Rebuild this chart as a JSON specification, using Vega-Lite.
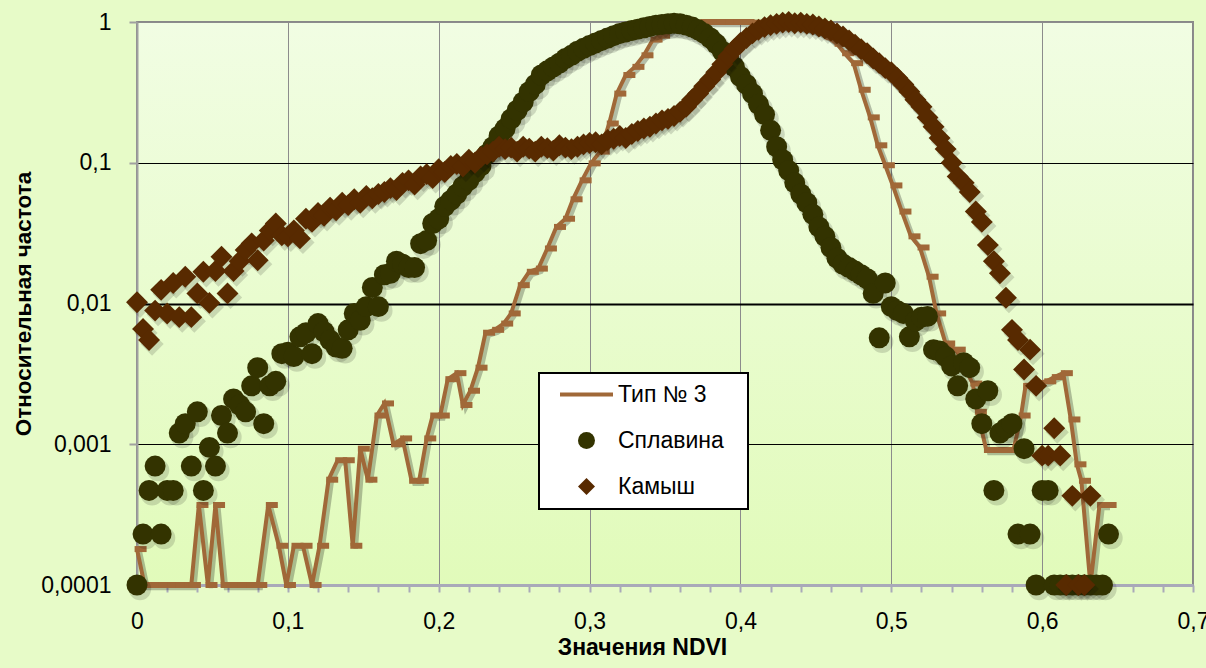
{
  "$schema": "https://vega.github.io/schema/vega-lite/v6.json",
  "width": 1056,
  "height": 563,
  "autosize": {"type": "none"},
  "padding": {"left": 137, "top": 22, "right": 13, "bottom": 83},
  "background": "#E7FBC8",
  "config": {
    "view": {
      "fill": {"gradient": "linear", "x1": 0, "y1": 0, "x2": 0, "y2": 1, "stops": [{"offset": 0, "color": "#F1FDE3"}, {"offset": 1, "color": "#E1FBBA"}]},
      "stroke": "#888888",
      "strokeWidth": 2
    }
  },
  "datasets": {
    "t": [
      {"x":0,"y":0.00018},{"x":0.005,"y":0.0001},{"x":0.011,"y":0.0001},{"x":0.016,"y":0.0001},{"x":0.022,"y":0.0001},{"x":0.027,"y":0.0001},{"x":0.033,"y":0.0001},{"x":0.036,"y":0.0001},{"x":0.041,"y":0.00037},{"x":0.047,"y":0.0001},{"x":0.052,"y":0.00037},{"x":0.057,"y":0.0001},{"x":0.063,"y":0.0001},{"x":0.068,"y":0.0001},{"x":0.074,"y":0.0001},{"x":0.08,"y":0.0001},{"x":0.087,"y":0.00037},{"x":0.094,"y":0.00019},{"x":0.099,"y":0.0001},{"x":0.104,"y":0.00019},{"x":0.11,"y":0.00019},{"x":0.116,"y":0.0001},{"x":0.121,"y":0.00019},{"x":0.127,"y":0.00056},{"x":0.133,"y":0.00077},{"x":0.138,"y":0.00077},{"x":0.143,"y":0.00019},{"x":0.148,"y":0.00093},{"x":0.153,"y":0.00056},{"x":0.159,"y":0.0016},{"x":0.164,"y":0.00195},{"x":0.17,"y":0.001},{"x":0.176,"y":0.0011},{"x":0.182,"y":0.00055},{"x":0.187,"y":0.00055},{"x":0.192,"y":0.0011},{"x":0.196,"y":0.0016},{"x":0.201,"y":0.0016},{"x":0.206,"y":0.0029},{"x":0.212,"y":0.0032},{"x":0.216,"y":0.0019},{"x":0.221,"y":0.0024},{"x":0.226,"y":0.0035},{"x":0.231,"y":0.0062},{"x":0.237,"y":0.0065},{"x":0.243,"y":0.0072},{"x":0.248,"y":0.0085},{"x":0.254,"y":0.0135},{"x":0.26,"y":0.0168},{"x":0.266,"y":0.0177},{"x":0.272,"y":0.0246},{"x":0.278,"y":0.035},{"x":0.284,"y":0.04},{"x":0.289,"y":0.055},{"x":0.295,"y":0.075},{"x":0.301,"y":0.099},{"x":0.307,"y":0.12},{"x":0.313,"y":0.19},{"x":0.318,"y":0.31},{"x":0.324,"y":0.42},{"x":0.33,"y":0.48},{"x":0.336,"y":0.58},{"x":0.342,"y":0.75},{"x":0.347,"y":0.8},{"x":0.353,"y":0.88},{"x":0.358,"y":0.93},{"x":0.364,"y":0.97},{"x":0.37,"y":0.99},{"x":0.375,"y":1},{"x":0.381,"y":1},{"x":0.386,"y":1},{"x":0.392,"y":1},{"x":0.397,"y":1},{"x":0.403,"y":1},{"x":0.408,"y":0.99},{"x":0.414,"y":0.98},{"x":0.42,"y":0.98},{"x":0.425,"y":0.97},{"x":0.431,"y":0.96},{"x":0.436,"y":0.94},{"x":0.442,"y":0.91},{"x":0.447,"y":0.88},{"x":0.453,"y":0.84},{"x":0.458,"y":0.78},{"x":0.464,"y":0.7},{"x":0.469,"y":0.6},{"x":0.475,"y":0.51},{"x":0.48,"y":0.33},{"x":0.486,"y":0.21},{"x":0.491,"y":0.133},{"x":0.496,"y":0.096},{"x":0.501,"y":0.069},{"x":0.507,"y":0.045},{"x":0.513,"y":0.03},{"x":0.519,"y":0.025},{"x":0.525,"y":0.0155},{"x":0.53,"y":0.0085},{"x":0.536,"y":0.0052},{"x":0.543,"y":0.0047},{"x":0.548,"y":0.0036},{"x":0.554,"y":0.0027},{"x":0.557,"y":0.0017},{"x":0.563,"y":0.00091},{"x":0.57,"y":0.00091},{"x":0.576,"y":0.00091},{"x":0.581,"y":0.00091},{"x":0.586,"y":0.0016},{"x":0.589,"y":0.0026},{"x":0.595,"y":0.0027},{"x":0.603,"y":0.0028},{"x":0.608,"y":0.003},{"x":0.614,"y":0.0032},{"x":0.619,"y":0.0015},{"x":0.623,"y":0.00072},{"x":0.626,"y":0.00055},{"x":0.632,"y":0.0001},{"x":0.638,"y":0.00037},{"x":0.643,"y":0.00037}
    ],
    "s": [
      {"x":0,"y":0.0001},{"x":0.004,"y":0.00023},{"x":0.008,"y":0.00047},{"x":0.012,"y":0.0007},{"x":0.016,"y":0.00023},{"x":0.02,"y":0.00047},{"x":0.024,"y":0.00047},{"x":0.028,"y":0.0012},{"x":0.032,"y":0.0014},{"x":0.036,"y":0.0007},{"x":0.04,"y":0.0017},{"x":0.044,"y":0.00047},{"x":0.048,"y":0.00095},{"x":0.052,"y":0.0007},{"x":0.056,"y":0.0016},{"x":0.06,"y":0.0012},{"x":0.064,"y":0.0021},{"x":0.068,"y":0.0019},{"x":0.072,"y":0.0017},{"x":0.076,"y":0.0026},{"x":0.08,"y":0.0035},{"x":0.084,"y":0.0014},{"x":0.088,"y":0.0026},{"x":0.092,"y":0.0028},{"x":0.096,"y":0.0044},{"x":0.1,"y":0.0045},{"x":0.104,"y":0.0042},{"x":0.108,"y":0.0058},{"x":0.112,"y":0.0062},{"x":0.116,"y":0.0044},{"x":0.12,"y":0.0072},{"x":0.124,"y":0.0063},{"x":0.128,"y":0.0055},{"x":0.132,"y":0.0049},{"x":0.136,"y":0.0048},{"x":0.14,"y":0.0065},{"x":0.144,"y":0.0085},{"x":0.148,"y":0.0076},{"x":0.152,"y":0.0095},{"x":0.156,"y":0.013},{"x":0.16,"y":0.0095},{"x":0.164,"y":0.016},{"x":0.168,"y":0.0164},{"x":0.172,"y":0.02},{"x":0.176,"y":0.019},{"x":0.18,"y":0.018},{"x":0.184,"y":0.018},{"x":0.188,"y":0.0266},{"x":0.192,"y":0.028},{"x":0.196,"y":0.037},{"x":0.2,"y":0.04},{"x":0.204,"y":0.049},{"x":0.208,"y":0.054},{"x":0.212,"y":0.06},{"x":0.216,"y":0.068},{"x":0.22,"y":0.075},{"x":0.224,"y":0.085},{"x":0.228,"y":0.095},{"x":0.232,"y":0.115},{"x":0.236,"y":0.13},{"x":0.24,"y":0.155},{"x":0.244,"y":0.175},{"x":0.248,"y":0.205},{"x":0.252,"y":0.236},{"x":0.256,"y":0.27},{"x":0.26,"y":0.32},{"x":0.264,"y":0.36},{"x":0.268,"y":0.42},{"x":0.272,"y":0.45},{"x":0.276,"y":0.48},{"x":0.28,"y":0.51},{"x":0.284,"y":0.55},{"x":0.288,"y":0.58},{"x":0.292,"y":0.62},{"x":0.296,"y":0.65},{"x":0.3,"y":0.68},{"x":0.304,"y":0.71},{"x":0.308,"y":0.74},{"x":0.312,"y":0.77},{"x":0.316,"y":0.8},{"x":0.32,"y":0.83},{"x":0.324,"y":0.85},{"x":0.328,"y":0.87},{"x":0.332,"y":0.89},{"x":0.336,"y":0.91},{"x":0.34,"y":0.93},{"x":0.344,"y":0.95},{"x":0.348,"y":0.96},{"x":0.352,"y":0.97},{"x":0.356,"y":0.98},{"x":0.36,"y":0.97},{"x":0.364,"y":0.95},{"x":0.368,"y":0.92},{"x":0.372,"y":0.88},{"x":0.376,"y":0.83},{"x":0.38,"y":0.77},{"x":0.384,"y":0.7},{"x":0.388,"y":0.62},{"x":0.392,"y":0.55},{"x":0.396,"y":0.48},{"x":0.4,"y":0.41},{"x":0.404,"y":0.36},{"x":0.408,"y":0.31},{"x":0.412,"y":0.26},{"x":0.416,"y":0.22},{"x":0.42,"y":0.17},{"x":0.424,"y":0.13},{"x":0.428,"y":0.105},{"x":0.432,"y":0.088},{"x":0.436,"y":0.072},{"x":0.44,"y":0.06},{"x":0.444,"y":0.052},{"x":0.448,"y":0.043},{"x":0.452,"y":0.035},{"x":0.456,"y":0.03},{"x":0.46,"y":0.025},{"x":0.464,"y":0.021},{"x":0.468,"y":0.019},{"x":0.472,"y":0.018},{"x":0.476,"y":0.017},{"x":0.48,"y":0.016},{"x":0.484,"y":0.015},{"x":0.488,"y":0.0118},{"x":0.492,"y":0.0057},{"x":0.496,"y":0.014},{"x":0.5,"y":0.0095},{"x":0.504,"y":0.0089},{"x":0.508,"y":0.0085},{"x":0.512,"y":0.0058},{"x":0.516,"y":0.0075},{"x":0.52,"y":0.008},{"x":0.524,"y":0.0081},{"x":0.528,"y":0.0047},{"x":0.532,"y":0.0046},{"x":0.536,"y":0.0042},{"x":0.54,"y":0.0036},{"x":0.544,"y":0.0026},{"x":0.548,"y":0.0038},{"x":0.552,"y":0.0035},{"x":0.556,"y":0.0021},{"x":0.56,"y":0.0014},{"x":0.564,"y":0.0024},{"x":0.568,"y":0.00047},{"x":0.572,"y":0.0012},{"x":0.576,"y":0.0013},{"x":0.58,"y":0.0014},{"x":0.584,"y":0.00023},{"x":0.588,"y":0.00093},{"x":0.592,"y":0.00023},{"x":0.596,"y":0.0001},{"x":0.6,"y":0.00047},{"x":0.604,"y":0.00047},{"x":0.608,"y":0.0001},{"x":0.612,"y":0.0001},{"x":0.616,"y":0.0001},{"x":0.62,"y":0.0001},{"x":0.624,"y":0.0001},{"x":0.628,"y":0.0001},{"x":0.632,"y":0.0001},{"x":0.636,"y":0.0001},{"x":0.64,"y":0.0001},{"x":0.644,"y":0.00023}
    ],
    "k": [
      {"x":0,"y":0.0102},{"x":0.004,"y":0.0066},{"x":0.008,"y":0.0055},{"x":0.012,"y":0.0089},{"x":0.016,"y":0.0125},{"x":0.02,"y":0.0085},{"x":0.024,"y":0.014},{"x":0.028,"y":0.008},{"x":0.032,"y":0.0155},{"x":0.036,"y":0.008},{"x":0.04,"y":0.0118},{"x":0.044,"y":0.0168},{"x":0.048,"y":0.0101},{"x":0.052,"y":0.017},{"x":0.056,"y":0.0215},{"x":0.06,"y":0.0118},{"x":0.064,"y":0.017},{"x":0.068,"y":0.02},{"x":0.072,"y":0.024},{"x":0.076,"y":0.0267},{"x":0.08,"y":0.0203},{"x":0.084,"y":0.028},{"x":0.088,"y":0.033},{"x":0.092,"y":0.037},{"x":0.096,"y":0.0305},{"x":0.1,"y":0.03},{"x":0.104,"y":0.033},{"x":0.108,"y":0.029},{"x":0.112,"y":0.04},{"x":0.116,"y":0.038},{"x":0.12,"y":0.044},{"x":0.124,"y":0.042},{"x":0.128,"y":0.048},{"x":0.132,"y":0.046},{"x":0.136,"y":0.052},{"x":0.14,"y":0.05},{"x":0.144,"y":0.055},{"x":0.148,"y":0.052},{"x":0.152,"y":0.058},{"x":0.156,"y":0.056},{"x":0.16,"y":0.06},{"x":0.164,"y":0.062},{"x":0.168,"y":0.066},{"x":0.172,"y":0.064},{"x":0.176,"y":0.072},{"x":0.18,"y":0.075},{"x":0.184,"y":0.07},{"x":0.188,"y":0.08},{"x":0.192,"y":0.083},{"x":0.196,"y":0.078},{"x":0.2,"y":0.09},{"x":0.204,"y":0.086},{"x":0.208,"y":0.095},{"x":0.212,"y":0.098},{"x":0.216,"y":0.094},{"x":0.22,"y":0.105},{"x":0.224,"y":0.1},{"x":0.228,"y":0.11},{"x":0.232,"y":0.115},{"x":0.236,"y":0.12},{"x":0.24,"y":0.13},{"x":0.244,"y":0.125},{"x":0.248,"y":0.128},{"x":0.252,"y":0.12},{"x":0.256,"y":0.13},{"x":0.26,"y":0.126},{"x":0.264,"y":0.12},{"x":0.268,"y":0.13},{"x":0.272,"y":0.127},{"x":0.276,"y":0.122},{"x":0.28,"y":0.133},{"x":0.284,"y":0.128},{"x":0.288,"y":0.125},{"x":0.292,"y":0.13},{"x":0.296,"y":0.135},{"x":0.3,"y":0.138},{"x":0.304,"y":0.14},{"x":0.308,"y":0.135},{"x":0.312,"y":0.145},{"x":0.316,"y":0.148},{"x":0.32,"y":0.155},{"x":0.324,"y":0.15},{"x":0.328,"y":0.16},{"x":0.332,"y":0.168},{"x":0.336,"y":0.175},{"x":0.34,"y":0.18},{"x":0.344,"y":0.19},{"x":0.348,"y":0.2},{"x":0.352,"y":0.205},{"x":0.356,"y":0.215},{"x":0.36,"y":0.23},{"x":0.364,"y":0.25},{"x":0.368,"y":0.28},{"x":0.372,"y":0.31},{"x":0.376,"y":0.35},{"x":0.38,"y":0.39},{"x":0.384,"y":0.44},{"x":0.388,"y":0.5},{"x":0.392,"y":0.57},{"x":0.396,"y":0.64},{"x":0.4,"y":0.71},{"x":0.404,"y":0.77},{"x":0.408,"y":0.83},{"x":0.412,"y":0.88},{"x":0.416,"y":0.92},{"x":0.42,"y":0.95},{"x":0.424,"y":0.97},{"x":0.428,"y":0.99},{"x":0.432,"y":1},{"x":0.436,"y":0.98},{"x":0.44,"y":0.99},{"x":0.444,"y":0.97},{"x":0.448,"y":0.96},{"x":0.452,"y":0.93},{"x":0.456,"y":0.9},{"x":0.46,"y":0.87},{"x":0.464,"y":0.83},{"x":0.468,"y":0.79},{"x":0.472,"y":0.74},{"x":0.476,"y":0.69},{"x":0.48,"y":0.64},{"x":0.484,"y":0.6},{"x":0.488,"y":0.55},{"x":0.492,"y":0.51},{"x":0.496,"y":0.47},{"x":0.5,"y":0.44},{"x":0.504,"y":0.4},{"x":0.508,"y":0.36},{"x":0.512,"y":0.32},{"x":0.516,"y":0.28},{"x":0.52,"y":0.25},{"x":0.524,"y":0.21},{"x":0.528,"y":0.18},{"x":0.532,"y":0.15},{"x":0.536,"y":0.125},{"x":0.54,"y":0.1},{"x":0.544,"y":0.08},{"x":0.548,"y":0.072},{"x":0.552,"y":0.062},{"x":0.556,"y":0.045},{"x":0.56,"y":0.038},{"x":0.564,"y":0.026},{"x":0.568,"y":0.02},{"x":0.572,"y":0.0164},{"x":0.576,"y":0.011},{"x":0.58,"y":0.0065},{"x":0.584,"y":0.0055},{"x":0.588,"y":0.0034},{"x":0.592,"y":0.0047},{"x":0.596,"y":0.0026},{"x":0.6,"y":0.00083},{"x":0.604,"y":0.00083},{"x":0.608,"y":0.0013},{"x":0.612,"y":0.00083},{"x":0.616,"y":0.0001},{"x":0.62,"y":0.00043},{"x":0.624,"y":0.0001},{"x":0.628,"y":0.0001},{"x":0.632,"y":0.00043}
    ]
  },
  "encoding": {
    "x": {
      "field": "x", "type": "quantitative",
      "scale": {"domain": [0, 0.7], "nice": false, "zero": false},
      "axis": {
        "title": "Значения NDVI",
        "values": [0,0.02,0.04,0.06,0.08,0.1,0.12,0.14,0.16,0.18,0.2,0.22,0.24,0.26,0.28,0.3,0.32,0.34,0.36,0.38,0.4,0.42,0.44,0.46,0.48,0.5,0.52,0.54,0.56,0.58,0.6,0.62,0.64,0.66,0.68,0.7],
        "labelExpr": "abs(datum.value*10 - round(datum.value*10)) < 0.001 ? replace(format(datum.value, '.1~f'), '.', ',') : ''",
        "labelOverlap": false,
        "labelFlush": false,
        "labelFont": "Liberation Sans", "labelFontSize": 23, "labelColor": "#000000", "labelPadding": 18,
        "grid": true,
        "gridColor": "#8c8c8c", "gridWidth": 1,
        "gridOpacity": {"condition": {"test": "abs(datum.value*10 - round(datum.value*10)) < 0.001", "value": 1}, "value": 0},
        "domainColor": "#a9a9b9", "domainWidth": 3,
        "tickColor": "#a9a9b9", "tickWidth": 2, "tickSize": 7,
        "titleFont": "Liberation Sans", "titleFontSize": 23, "titleFontWeight": "bold", "titleColor": "#000000",
        "titlePadding": 3, "titleX": 505
      }
    },
    "y": {
      "field": "y", "type": "quantitative",
      "scale": {"type": "log", "domain": [0.0001, 1], "nice": false},
      "axis": {
        "title": "Относительная частота",
        "values": [0.0001, 0.001, 0.01, 0.1, 1],
        "labelExpr": "replace(format(datum.value, '~g'), '.', ',')",
        "labelFont": "Liberation Sans", "labelFontSize": 23, "labelColor": "#000000", "labelPadding": 18,
        "grid": true,
        "gridColor": {"condition": {"test": "datum.value > 0.5 || datum.value < 0.0005", "value": "#8c8c8c"}, "value": "#000000"},
        "gridWidth": {"condition": {"test": "abs(datum.value - 0.01) < 0.0001", "value": 2}, "value": 1.2},
        "domainColor": "#a0a0a0", "domainWidth": 2,
        "tickColor": "#a0a0a0", "tickWidth": 2, "tickSize": 8,
        "titleFont": "Liberation Sans", "titleFontSize": 22.5, "titleFontWeight": "bold", "titleColor": "#000000",
        "titlePadding": 5
      }
    }
  },
  "layer": [
    {
      "data": {"name": "t"},
      "mark": {"type": "line", "color": "#000000", "opacity": 0.25, "strokeWidth": 4.5, "xOffset": 3, "yOffset": 3},
      "encoding": {}
    },
    {
      "data": {"name": "t"},
      "mark": {"type": "line", "strokeWidth": 4},
      "encoding": {
        "color": {"datum": "Тип № 3", "type": "nominal",
          "scale": {"domain": ["Тип № 3", "Сплавина", "Камыш"], "range": ["#A06838", "#333300", "#582A00"]},
          "legend": {
            "title": ".",
            "titleOrient": "right", "titlePadding": 7, "titleFontSize": 23, "titleOpacity": 0,
            "orient": "none", "legendX": 402, "legendY": 351,
            "fillColor": "#ffffff", "strokeColor": "#000000", "padding": 10,
            "labelFont": "Liberation Sans", "labelFontSize": 23, "labelColor": "#000000",
            "symbolOffset": 26, "labelOffset": 20, "rowPadding": 22,
            "encode": {
              "legend": {"update": {"strokeWidth": {"value": 2}}},
              "symbols": {"update": {
                "shape": {"signal": "datum.value === 'Тип № 3' ? 'stroke' : (datum.value === 'Сплавина' ? 'circle' : 'diamond')"},
                "size": {"signal": "datum.value === 'Тип № 3' ? 2809 : 289"},
                "stroke": {"signal": "datum.value === 'Тип № 3' ? '#A06838' : 'transparent'"},
                "strokeWidth": {"signal": "datum.value === 'Тип № 3' ? 4 : 0"},
                "fill": {"signal": "datum.value === 'Тип № 3' ? 'transparent' : (datum.value === 'Сплавина' ? '#333300' : '#582A00')"},
                "opacity": {"value": 1}
              }}
            }
          }
        }
      }
    },
    {
      "data": {"name": "t"},
      "mark": {"type": "point", "filled": true, "opacity": 1, "shape": "M-0.4,-0.5H1.6V0.5H-0.4Z", "size": 144, "color": "#A06838"},
      "encoding": {}
    },
    {
      "data": {"name": "s"},
      "mark": {"type": "point", "filled": true, "shape": "circle", "size": 500, "color": "#000000", "opacity": 0.14, "xOffset": 3, "yOffset": 4},
      "encoding": {}
    },
    {
      "data": {"name": "s"},
      "mark": {"type": "point", "filled": true, "shape": "circle", "size": 440, "opacity": 1},
      "encoding": {"color": {"datum": "Сплавина", "type": "nominal"}}
    },
    {
      "data": {"name": "k"},
      "mark": {"type": "point", "filled": true, "shape": "diamond", "size": 540, "color": "#000000", "opacity": 0.14, "xOffset": 3, "yOffset": 4},
      "encoding": {}
    },
    {
      "data": {"name": "k"},
      "mark": {"type": "point", "filled": true, "shape": "diamond", "size": 480, "opacity": 1},
      "encoding": {"color": {"datum": "Камыш", "type": "nominal"}}
    }
  ]
}
